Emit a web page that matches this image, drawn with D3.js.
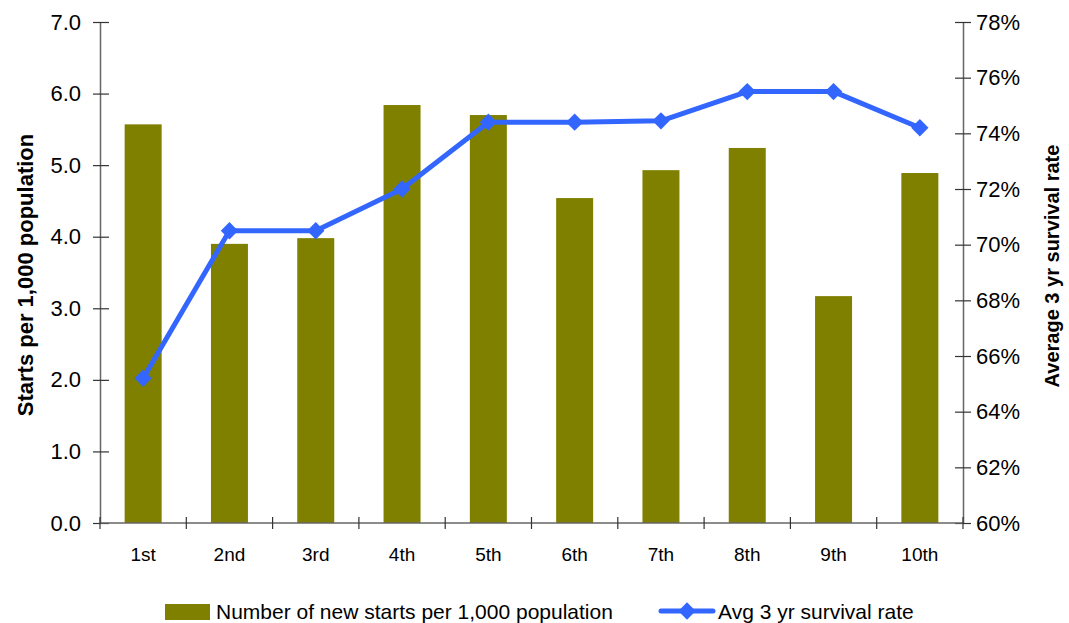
<!DOCTYPE html>
<html>
<head>
<meta charset="utf-8">
<script src="https://cdn.jsdelivr.net/npm/d3@7"></script>
<style>
  body { margin: 0; background: #fff; }
  svg { font-family: "Liberation Sans", Arial, sans-serif; }
</style>
</head>
<body>
<svg id="chart" width="1069" height="623"></svg>
<script>
// data
const categories = ["1st", "2nd", "3rd", "4th", "5th", "6th", "7th", "8th", "9th", "10th"]
const starts = [5.57, 3.90, 3.98, 5.84, 5.70, 4.54, 4.93, 5.24, 3.17, 4.89]
const survival = [65.2, 70.5, 70.5, 72.0, 74.4, 74.4, 74.45, 75.5, 75.5, 74.2]
const leftTicks = [0, 1, 2, 3, 4, 5, 6, 7]
const rightTicks = [60, 62, 64, 66, 68, 70, 72, 74, 76, 78]

const dims = { left: 100, right: 963, top: 22, bottom: 523 }
const svg = d3.select("#chart")

const xc = d3.scaleBand().domain(categories).range([dims.left, dims.right])
const yL = d3.scaleLinear().domain([0, 7]).range([dims.bottom, dims.top])
const yR = d3.scaleLinear().domain([60, 78]).range([dims.bottom, dims.top])
let cx = d => xc(d) + xc.bandwidth() / 2

// bars
svg.append("g").selectAll("rect").data(categories).join("rect")
  .attr("x", d => cx(d) - 18.5)
  .attr("width", 37)
  .attr("y", (d, i) => yL(starts[i]))
  .attr("height", (d, i) => dims.bottom - yL(starts[i]))
  .attr("fill", "#808000")

// axes
let styleAxis = g => {
  g.select(".domain").attr("stroke", "#666").attr("stroke-width", 1.5)
  g.selectAll(".tick line").attr("stroke", "#333").attr("stroke-width", 1.2)
  g.selectAll("text").attr("fill", "#000")
}
let axL = svg.append("g").attr("transform", `translate(${dims.left},0)`)
  .call(d3.axisLeft(yL).tickValues(leftTicks).tickFormat(d3.format(".1f")).tickSizeOuter(0))
axL.selectAll(".tick line").attr("x2", -7).attr("x1", 9)
axL.selectAll("text").attr("x", -19).attr("font-size", 22)
styleAxis(axL)

let axR = svg.append("g").attr("transform", `translate(${dims.right},0)`)
  .call(d3.axisRight(yR).tickValues(rightTicks).tickFormat(d => d + "%").tickSizeOuter(0))
axR.selectAll(".tick line").attr("x1", -8).attr("x2", 8)
axR.selectAll("text").attr("x", 13).attr("font-size", 22)
styleAxis(axR)

let axB = svg.append("g").attr("transform", `translate(0,${dims.bottom})`)
  .call(d3.axisBottom(xc).tickSize(0).tickSizeOuter(0))
axB.selectAll(".tick line").remove()
axB.selectAll("text").attr("y", 25).attr("font-size", 19)
axB.select(".domain").attr("d", `M${dims.left},0H${dims.right}`)
styleAxis(axB)
// category separators
axB.selectAll(".sep").data(categories.concat(["end"])).join("line")
  .attr("x1", (d, i) => dims.left + i * xc.step()).attr("x2", (d, i) => dims.left + i * xc.step())
  .attr("y1", -6).attr("y2", 6).attr("stroke", "#333").attr("stroke-width", 1.2)

// line
let line = d3.line().x((d, i) => cx(categories[i])).y(d => yR(d))
svg.append("path").datum(survival).attr("d", line)
  .attr("fill", "none").attr("stroke", "#3366FF").attr("stroke-width", 5).attr("stroke-linejoin", "round")
let diamond = d3.symbol().type(d3.symbolSquare).size(150)
svg.append("g").selectAll("path").data(survival).join("path")
  .attr("d", diamond)
  .attr("transform", (d, i) => `translate(${cx(categories[i])},${yR(d)}) rotate(45)`)
  .attr("fill", "#3366FF")

// axis titles
svg.append("text").attr("transform", "translate(33,275) rotate(-90)")
  .attr("text-anchor", "middle").attr("font-size", 22).attr("font-weight", "bold")
  .text("Starts per 1,000 population")
svg.append("text").attr("transform", "translate(1059,266) rotate(-90)")
  .attr("text-anchor", "middle").attr("font-size", 20).attr("font-weight", "bold")
  .text("Average 3 yr survival rate")

// legend
let lg = svg.append("g").attr("font-size", 21)
lg.append("rect").attr("x", 165).attr("y", 604).attr("width", 45).attr("height", 16).attr("fill", "#808000")
lg.append("text").attr("x", 216).attr("y", 619).text("Number of new starts per 1,000 population")
lg.append("line").attr("x1", 661).attr("x2", 713).attr("y1", 611).attr("y2", 611)
  .attr("stroke", "#3366FF").attr("stroke-width", 5).attr("stroke-linecap", "round")
lg.append("path").attr("d", diamond).attr("transform", "translate(687,611) rotate(45)").attr("fill", "#3366FF")
lg.append("text").attr("x", 718).attr("y", 619).text("Avg 3 yr survival rate")
</script>
</body>
</html>
